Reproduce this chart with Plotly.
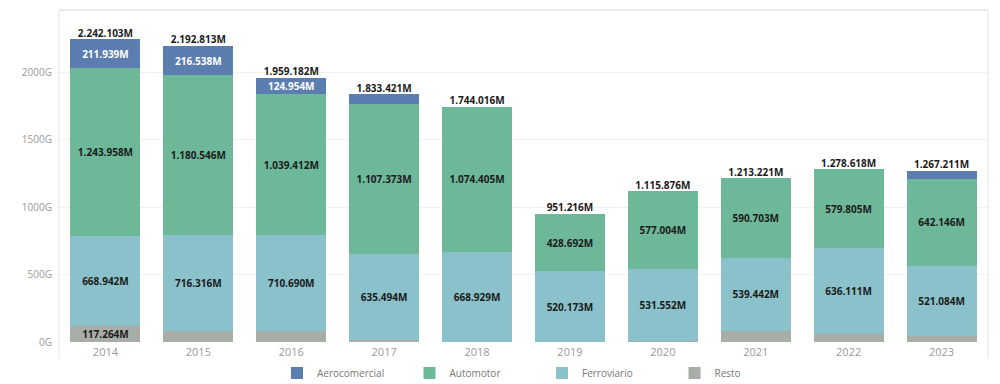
import plotly.graph_objects as go

years = ["2014", "2015", "2016", "2017", "2018", "2019", "2020", "2021", "2022", "2023"]
aerocomercial = [211939, 216538, 124954, 74000, 0, 0, 0, 0, 0, 60000]
automotor = [1243958, 1180546, 1039412, 1107373, 1074405, 428692, 577004, 590703, 579805, 642146]
ferroviario = [668942, 716316, 710690, 635494, 668929, 520173, 531552, 539442, 636111, 521084]
resto = [117264, 79413, 84126, 16554, 682, 2351, 7320, 83076, 62702, 43981]
totales = [2242103, 2192813, 1959182, 1833421, 1744016, 951216, 1115876, 1213221, 1278618, 1267211]

aero_labeled = [True, True, True, False, False, False, False, False, False, False]
resto_labeled = [True, False, False, False, False, False, False, False, False, False]

y_tickvals = [0, 500000, 1000000, 1500000, 2000000]
y_ticktext = ["0G", "500G", "1000G", "1500G", "2000G"]


def fmt(v):
    return f"{v:,}".replace(",", ".") + "M"


FONT = "Open Sans"
LABEL_FONT = dict(family=FONT, size=10, color="#1b1b1b", weight="bold")

fig = go.Figure()

fig.add_trace(go.Bar(
    x=years, y=resto, name="Resto", marker_color="#a9ada7", legendrank=4,
    text=[fmt(v) if f else "" for v, f in zip(resto, resto_labeled)],
    textposition="inside", insidetextanchor="middle", textfont=LABEL_FONT,
    marker_line_width=0,
))
fig.add_trace(go.Bar(
    x=years, y=ferroviario, name="Ferroviario", marker_color="#8ac1ca", legendrank=3,
    text=[fmt(v) for v in ferroviario],
    textposition="inside", insidetextanchor="middle", textfont=LABEL_FONT,
    marker_line_width=0,
))
fig.add_trace(go.Bar(
    x=years, y=automotor, name="Automotor", marker_color="#6db899", legendrank=2,
    text=[fmt(v) for v in automotor],
    textposition="inside", insidetextanchor="middle", textfont=LABEL_FONT,
    marker_line_width=0,
))
fig.add_trace(go.Bar(
    x=years, y=aerocomercial, name="Aerocomercial", marker_color="#5b7db0", legendrank=1,
    text=[fmt(v) if f else "" for v, f in zip(aerocomercial, aero_labeled)],
    textposition="inside", insidetextanchor="middle",
    textfont=dict(family=FONT, size=10, color="#ffffff", weight="bold"),
    marker_line_width=0,
))
fig.add_trace(go.Scatter(
    x=years, y=totales, mode="text", text=[fmt(v) for v in totales],
    textposition="top center", textfont=LABEL_FONT, showlegend=False,
    cliponaxis=False, hoverinfo="skip",
))

fig.update_layout(
    width=1000, height=384, autosize=False,
    barmode="stack", bargap=0.247,
    margin=dict(l=59, r=12, t=10, b=42, autoexpand=False),
    plot_bgcolor="white", paper_bgcolor="white",
    font=dict(family=FONT, size=10, color="#999999"),
    uniformtext=dict(mode="show", minsize=10),
    showlegend=True,
    legend=dict(
        orientation="h", xref="container", yref="container",
        x=0.277, xanchor="left", y=0.0286, yanchor="middle",
        entrywidth=87.5, entrywidthmode="pixels", itemwidth=30,
        font=dict(family=FONT, size=10, color="#777777"),
        traceorder="normal",
    ),
    shapes=[
        dict(type="line", xref="paper", yref="paper", x0=0, x1=0, y0=-0.05, y1=1,
             line=dict(color="#e3e3e3", width=1)),
        dict(type="line", xref="paper", yref="paper", x0=1, x1=1, y0=-0.05, y1=1,
             line=dict(color="#e3e3e3", width=1)),
        dict(type="line", xref="paper", yref="paper", x0=0, x1=1, y0=1, y1=1,
             line=dict(color="#e3e3e3", width=1.5)),
    ],
)

fig.update_yaxes(
    range=[0, 2459259], tickvals=y_tickvals, ticktext=y_ticktext,
    showgrid=True, gridcolor="#f2f2f2", gridwidth=1, zeroline=False,
    showline=False, ticks="", ticklabelstandoff=6, automargin=False,
    tickfont=dict(family=FONT, size=10, color="#999999"),
)
fig.update_xaxes(
    showgrid=False, showline=False, ticks="", ticklabelstandoff=2, automargin=False,
    tickfont=dict(family=FONT, size=11, color="#999999"),
)

fig.write_html(
    "out.html",
    config={"displayModeBar": False},
    post_script="document.body.style.margin='0';document.body.style.overflow='hidden';",
)
